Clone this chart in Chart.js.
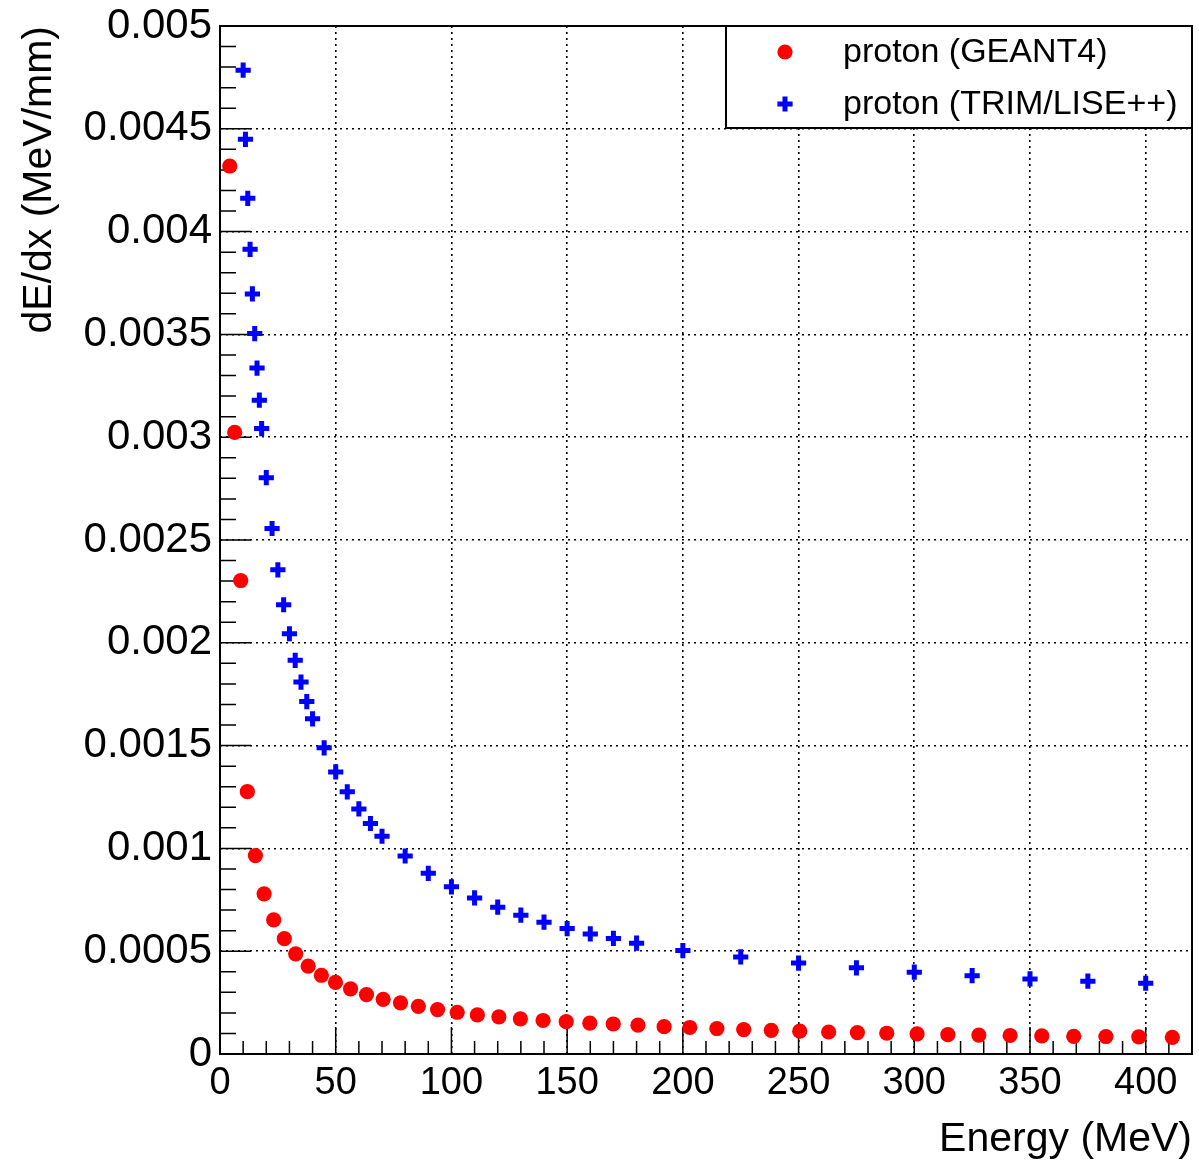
<!DOCTYPE html>
<html>
<head>
<meta charset="utf-8">
<script src="https://cdn.jsdelivr.net/npm/chart.js@4.4.1/dist/chart.umd.min.js"></script>
<style>
  html, body { margin: 0; padding: 0; background: #fff; }
  canvas { display: block; }
</style>
</head>
<body>
<canvas id="dedxChart" width="1199" height="1164"></canvas>
<script>
// GEANT4 points (energy in MeV, dE/dx in MeV/mm)
const energyG4 = [4.2, 6.35, 8.95, 11.8, 15.3, 19.05, 23.2, 27.8, 32.7, 38.1, 43.8, 49.9, 56.4, 63.3, 70.5,
  78, 85.7, 94, 102.5, 111.2, 120.5, 129.8, 139.6, 149.6, 159.8, 169.9, 180.6, 191.9, 203, 214.7,
  226.3, 238.2, 250.5, 263, 275.4, 288.1, 301.2, 314.5, 327.9, 341.4, 355.1, 368.9, 382.8, 397, 411.5]
const dedxG4 = [0.004319, 0.003023, 0.002303, 0.001276, 0.000965, 0.000779, 0.000652, 0.000561, 0.000487,
  0.000427, 0.000383, 0.000348, 0.000317, 0.000289, 0.000266, 0.000249, 0.000232, 0.000216, 0.000203,
  0.000190, 0.000181, 0.000171, 0.000163, 0.000157, 0.000150, 0.000146, 0.000140, 0.000133, 0.000129,
  0.000124, 0.000119, 0.000115, 0.000111, 0.000107, 0.000104, 0.000101, 0.000098, 0.000094, 0.000092,
  0.000090, 0.000088, 0.000086, 0.000085, 0.000083, 0.000081]

// TRIM/LISE++ points
const energyTrim = [10, 11, 12, 13, 14, 15, 16, 17, 18, 20, 22.5, 25, 27.5, 30, 32.5, 35, 37.5, 40, 45, 50,
  55, 60, 65, 70, 80, 90, 100, 110, 120, 130, 140, 150, 160, 170, 180, 200, 225, 250, 275, 300, 325,
  350, 375, 400]
const dedxTrim = [0.004785, 0.004449, 0.004162, 0.003914, 0.003697, 0.003504, 0.003336, 0.003180, 0.003042,
  0.002803, 0.002556, 0.002355, 0.002185, 0.002044, 0.001915, 0.001809, 0.001714, 0.001630, 0.001489,
  0.001372, 0.001275, 0.001192, 0.001121, 0.001059, 0.000963, 0.000879, 0.000813, 0.000759, 0.000714,
  0.000675, 0.000641, 0.000610, 0.000584, 0.000562, 0.000539, 0.000503, 0.000472, 0.000442, 0.000419,
  0.000398, 0.000381, 0.000365, 0.000354, 0.000344]

const seriesNames = ["proton (GEANT4)", "proton (TRIM/LISE++)"]

// axes
const xRange = [0, 420]
const yRange = [0, 0.005]
const xTicks = [0, 50, 100, 150, 200, 250, 300, 350, 400]
const xTickLabels = ["0", "50", "100", "150", "200", "250", "300", "350", "400"]
const yTicks = [0, 0.0005, 0.001, 0.0015, 0.002, 0.0025, 0.003, 0.0035, 0.004, 0.0045, 0.005]
const yTickLabels = ["0", "0.0005", "0.001", "0.0015", "0.002", "0.0025", "0.003", "0.0035", "0.004", "0.0045", "0.005"]
const xMinorStep = 10
const yMinorStep = 0.0001

const FONT = "'Liberation Sans', Arial, Helvetica, sans-serif"

const toPoints = (xs, ys) => xs.map((v, i) => ({ x: v, y: ys[i] }))

// ROOT style frame with inner ticks
const rootFrame = {
  id: "rootFrame",
  beforeDatasetsDraw(chart) {
    const { ctx, chartArea: a, scales } = chart
    const xs = scales.x
    const ys = scales.y
    ctx.save()
    ctx.strokeStyle = "#000"
    ctx.lineWidth = 1.5
    ctx.beginPath()
    const nx = Math.round((xRange[1] - xRange[0]) / xMinorStep)
    for (let i = 0; i <= nx; i++) {
      const px = xs.getPixelForValue(xRange[0] + i * xMinorStep)
      const len = i % 5 === 0 ? 27 : 13
      ctx.moveTo(px, a.bottom)
      ctx.lineTo(px, a.bottom - len)
    }
    const ny = Math.round((yRange[1] - yRange[0]) / yMinorStep)
    for (let i = 0; i <= ny; i++) {
      const py = ys.getPixelForValue(yRange[0] + i * yMinorStep)
      const len = i % 5 === 0 ? 31 : 16
      ctx.moveTo(a.left, py)
      ctx.lineTo(a.left + len, py)
    }
    ctx.stroke()
    ctx.lineWidth = 2
    ctx.strokeRect(a.left, a.top, a.right - a.left, a.bottom - a.top)
    ctx.restore()
  },
}

// legend box in the top right corner
const legendBox = {
  id: "legendBox",
  afterDraw(chart) {
    const { ctx, chartArea: a } = chart
    const x0 = 726
    const y1 = 128
    ctx.save()
    ctx.fillStyle = "#fff"
    ctx.fillRect(x0, a.top, a.right - x0, y1 - a.top)
    ctx.strokeStyle = "#000"
    ctx.lineWidth = 2
    ctx.strokeRect(x0, a.top, a.right - x0, y1 - a.top)
    const rows = [52, 104]
    chart.data.datasets.forEach((ds, i) => {
      ctx.fillStyle = ds.backgroundColor
      ctx.strokeStyle = ds.borderColor
      ctx.lineWidth = ds.borderWidth
      Chart.helpers.drawPoint(ctx, {
        pointStyle: ds.pointStyle,
        radius: ds.pointRadius,
        borderWidth: ds.borderWidth,
        rotation: 0,
      }, 785, rows[i])
      ctx.fillStyle = "#000"
      ctx.font = "34px " + FONT
      ctx.textAlign = "left"
      ctx.textBaseline = "middle"
      ctx.fillText(ds.label, 843, rows[i] + 1)
    })
    ctx.restore()
  },
}

const ctx = document.getElementById("dedxChart").getContext("2d")
new Chart(ctx, {
  type: "scatter",
  data: {
    datasets: [
      {
        label: seriesNames[0],
        data: toPoints(energyG4, dedxG4),
        pointStyle: "circle",
        pointRadius: 7.6,
        borderWidth: 0,
        backgroundColor: "#ff0000",
        borderColor: "#ff0000",
      },
      {
        label: seriesNames[1],
        data: toPoints(energyTrim, dedxTrim),
        pointStyle: "cross",
        pointRadius: 7.6,
        borderWidth: 5,
        backgroundColor: "#0000ff",
        borderColor: "#0000ff",
      },
    ],
  },
  options: {
    responsive: false,
    animation: false,
    events: [],
    layout: { autoPadding: false, padding: { top: 26, right: 7, left: 0, bottom: 0 } },
    plugins: {
      legend: { display: false },
      tooltip: { enabled: false },
    },
    scales: {
      x: {
        type: "linear",
        min: xRange[0],
        max: xRange[1],
        afterBuildTicks: (s) => { s.ticks = xTicks.map((v) => ({ value: v })) },
        afterFit: (s) => {
          s.height = 110
          s.paddingLeft = 0
          s.paddingRight = 0
        },
        ticks: {
          autoSkip: false,
          maxRotation: 0,
          padding: 7,
          color: "#000",
          font: { family: FONT, size: 38 },
          callback: (v, i) => xTickLabels[i],
        },
        grid: { color: "#000", lineWidth: 1.6, drawTicks: false },
        border: { display: false, dash: [2, 4] },
        title: {
          display: true,
          text: "Energy (MeV)",
          align: "end",
          color: "#000",
          font: { family: FONT, size: 41 },
          padding: 0,
        },
      },
      y: {
        type: "linear",
        min: yRange[0],
        max: yRange[1],
        afterBuildTicks: (s) => { s.ticks = yTicks.map((v) => ({ value: v })) },
        afterFit: (s) => {
          s.width = 220
          s.paddingTop = 0
          s.paddingBottom = 0
        },
        ticks: {
          autoSkip: false,
          padding: 8,
          color: "#000",
          font: { family: FONT, size: 42 },
          callback: (v, i) => yTickLabels[i],
        },
        grid: { color: "#000", lineWidth: 1.6, drawTicks: false },
        border: { display: false, dash: [2, 4] },
        title: {
          display: true,
          text: "dE/dx (MeV/mm)",
          align: "end",
          color: "#000",
          font: { family: FONT, size: 41 },
          padding: { top: 15, bottom: 0 },
        },
      },
    },
  },
  plugins: [rootFrame, legendBox],
})
</script>
</body>
</html>
